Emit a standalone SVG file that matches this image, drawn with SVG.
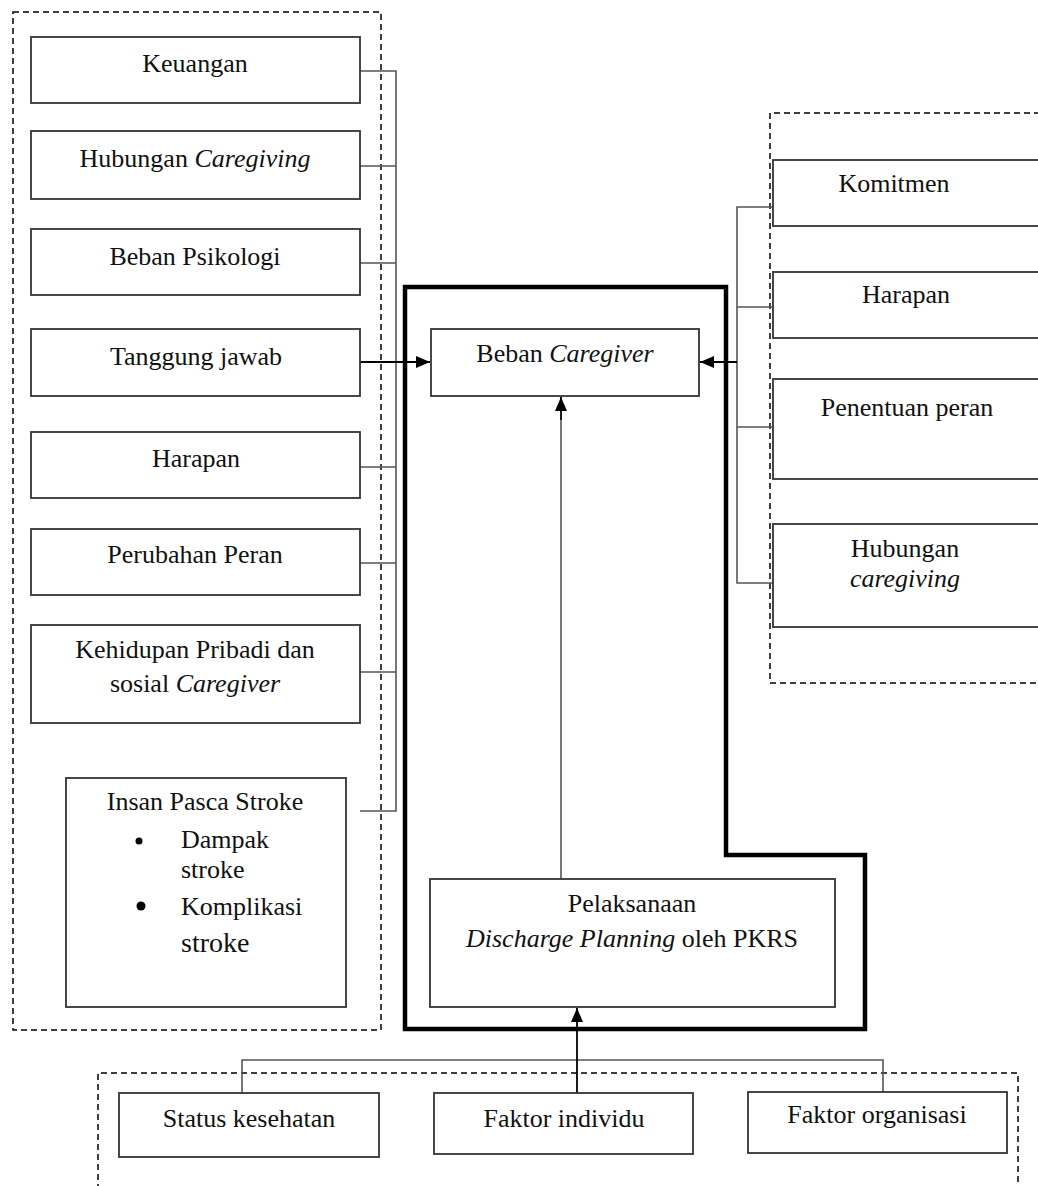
<svg xmlns="http://www.w3.org/2000/svg" width="1038" height="1186" viewBox="0 0 1038 1186">
<style>
.box{fill:#fff;stroke:#333;stroke-width:1.8}
.dash{fill:none;stroke:#000;stroke-width:1.5;stroke-dasharray:6 4}
.con{fill:none;stroke:#555;stroke-width:1.6}
.arr{fill:none;stroke:#000;stroke-width:1.8}
.thick{fill:none;stroke:#000;stroke-width:4.5}
text{font-family:"Liberation Serif","Times New Roman",serif;font-size:26px;fill:#111;text-anchor:middle}
.i{font-style:italic}
.l{text-anchor:start}
</style>
<defs>
<marker id="ah" markerWidth="14" markerHeight="12" refX="14" refY="6" orient="auto" markerUnits="userSpaceOnUse">
<path d="M0,0 L14,6 L0,12 Z" fill="#000"/>
</marker>
</defs>
<rect width="1038" height="1186" fill="#fff"/>
<g id="frames">
<rect class="dash" x="13" y="12" width="368" height="1018"/>
<path class="dash" d="M1040,113 H770 V683 H1040"/>
<path class="dash" d="M98,1190 V1073 H1018 V1190"/>
<path class="thick" d="M405,287 H726 V855 H865 V1029 H405 Z"/>
</g>
<g id="connectors">
<path class="con" d="M360,71 H396 V811 H360 M360,166 H396 M360,263 H396 M360,467 H396 M360,563 H396 M360,672 H396"/>
<path class="arr" d="M360,362 H430" marker-end="url(#ah)"/>
<path class="con" d="M773,207 H737 V583 H773 M737,307 H773 M737,427 H773"/>
<path class="arr" d="M737,362 H700" marker-end="url(#ah)"/>
<path class="con" d="M561,879 V420"/>
<path class="arr" d="M561,420 V397" marker-end="url(#ah)"/>
<path class="con" d="M242,1093 V1060 H883 V1093"/>
<path class="arr" d="M577,1093 V1008" marker-end="url(#ah)"/>
</g>
<g id="keuangan"><rect class="box" x="31" y="37" width="329" height="66"/><text x="195" y="72">Keuangan</text></g>
<g id="hubungan-caregiving"><rect class="box" x="31" y="131" width="329" height="68"/><text x="195" y="167">Hubungan <tspan class="i">Caregiving</tspan></text></g>
<g id="beban-psikologi"><rect class="box" x="31" y="229" width="329" height="66"/><text x="195" y="265">Beban Psikologi</text></g>
<g id="tanggung-jawab"><rect class="box" x="31" y="329" width="329" height="67"/><text x="196" y="365">Tanggung jawab</text></g>
<g id="harapan-left"><rect class="box" x="31" y="432" width="329" height="66"/><text x="196" y="467">Harapan</text></g>
<g id="perubahan-peran"><rect class="box" x="31" y="529" width="329" height="66"/><text x="195" y="563">Perubahan Peran</text></g>
<g id="kehidupan"><rect class="box" x="31" y="625" width="329" height="98"/><text x="195" y="658">Kehidupan Pribadi dan</text><text x="195" y="692">sosial <tspan class="i">Caregiver</tspan></text></g>
<g id="insan-pasca-stroke"><rect class="box" x="66" y="778" width="280" height="229"/>
<text x="205" y="810">Insan Pasca Stroke</text>
<circle cx="139" cy="841" r="3.5" fill="#000"/>
<text class="l" x="181" y="848">Dampak</text>
<text class="l" x="181" y="878">stroke</text>
<circle cx="141" cy="906" r="4.5" fill="#000"/>
<text class="l" x="181" y="915">Komplikasi</text>
<text class="l" x="181" y="952" style="font-size:28px">stroke</text>
</g>
<g id="beban-caregiver"><rect class="box" x="431" y="329" width="268" height="67"/><text x="565" y="362">Beban <tspan class="i">Caregiver</tspan></text></g>
<g id="pelaksanaan"><rect class="box" x="430" y="879" width="405" height="128"/><text x="632" y="912">Pelaksanaan</text><text x="632" y="947"><tspan class="i">Discharge Planning</tspan> oleh PKRS</text></g>
<g id="komitmen"><rect class="box" x="773" y="160" width="270" height="66"/><text x="894" y="192">Komitmen</text></g>
<g id="harapan-right"><rect class="box" x="773" y="272" width="270" height="66"/><text x="906" y="303">Harapan</text></g>
<g id="penentuan-peran"><rect class="box" x="773" y="379" width="270" height="100"/><text x="907" y="416">Penentuan peran</text></g>
<g id="hubungan-caregiving-right"><rect class="box" x="773" y="524" width="270" height="103"/><text x="905" y="557">Hubungan</text><text class="i" x="905" y="587">caregiving</text></g>
<g id="status-kesehatan"><rect class="box" x="119" y="1093" width="260" height="64"/><text x="249" y="1127">Status kesehatan</text></g>
<g id="faktor-individu"><rect class="box" x="434" y="1093" width="259" height="61"/><text x="564" y="1127">Faktor individu</text></g>
<g id="faktor-organisasi"><rect class="box" x="748" y="1092" width="259" height="61"/><text x="877" y="1123">Faktor organisasi</text></g>
</svg>
